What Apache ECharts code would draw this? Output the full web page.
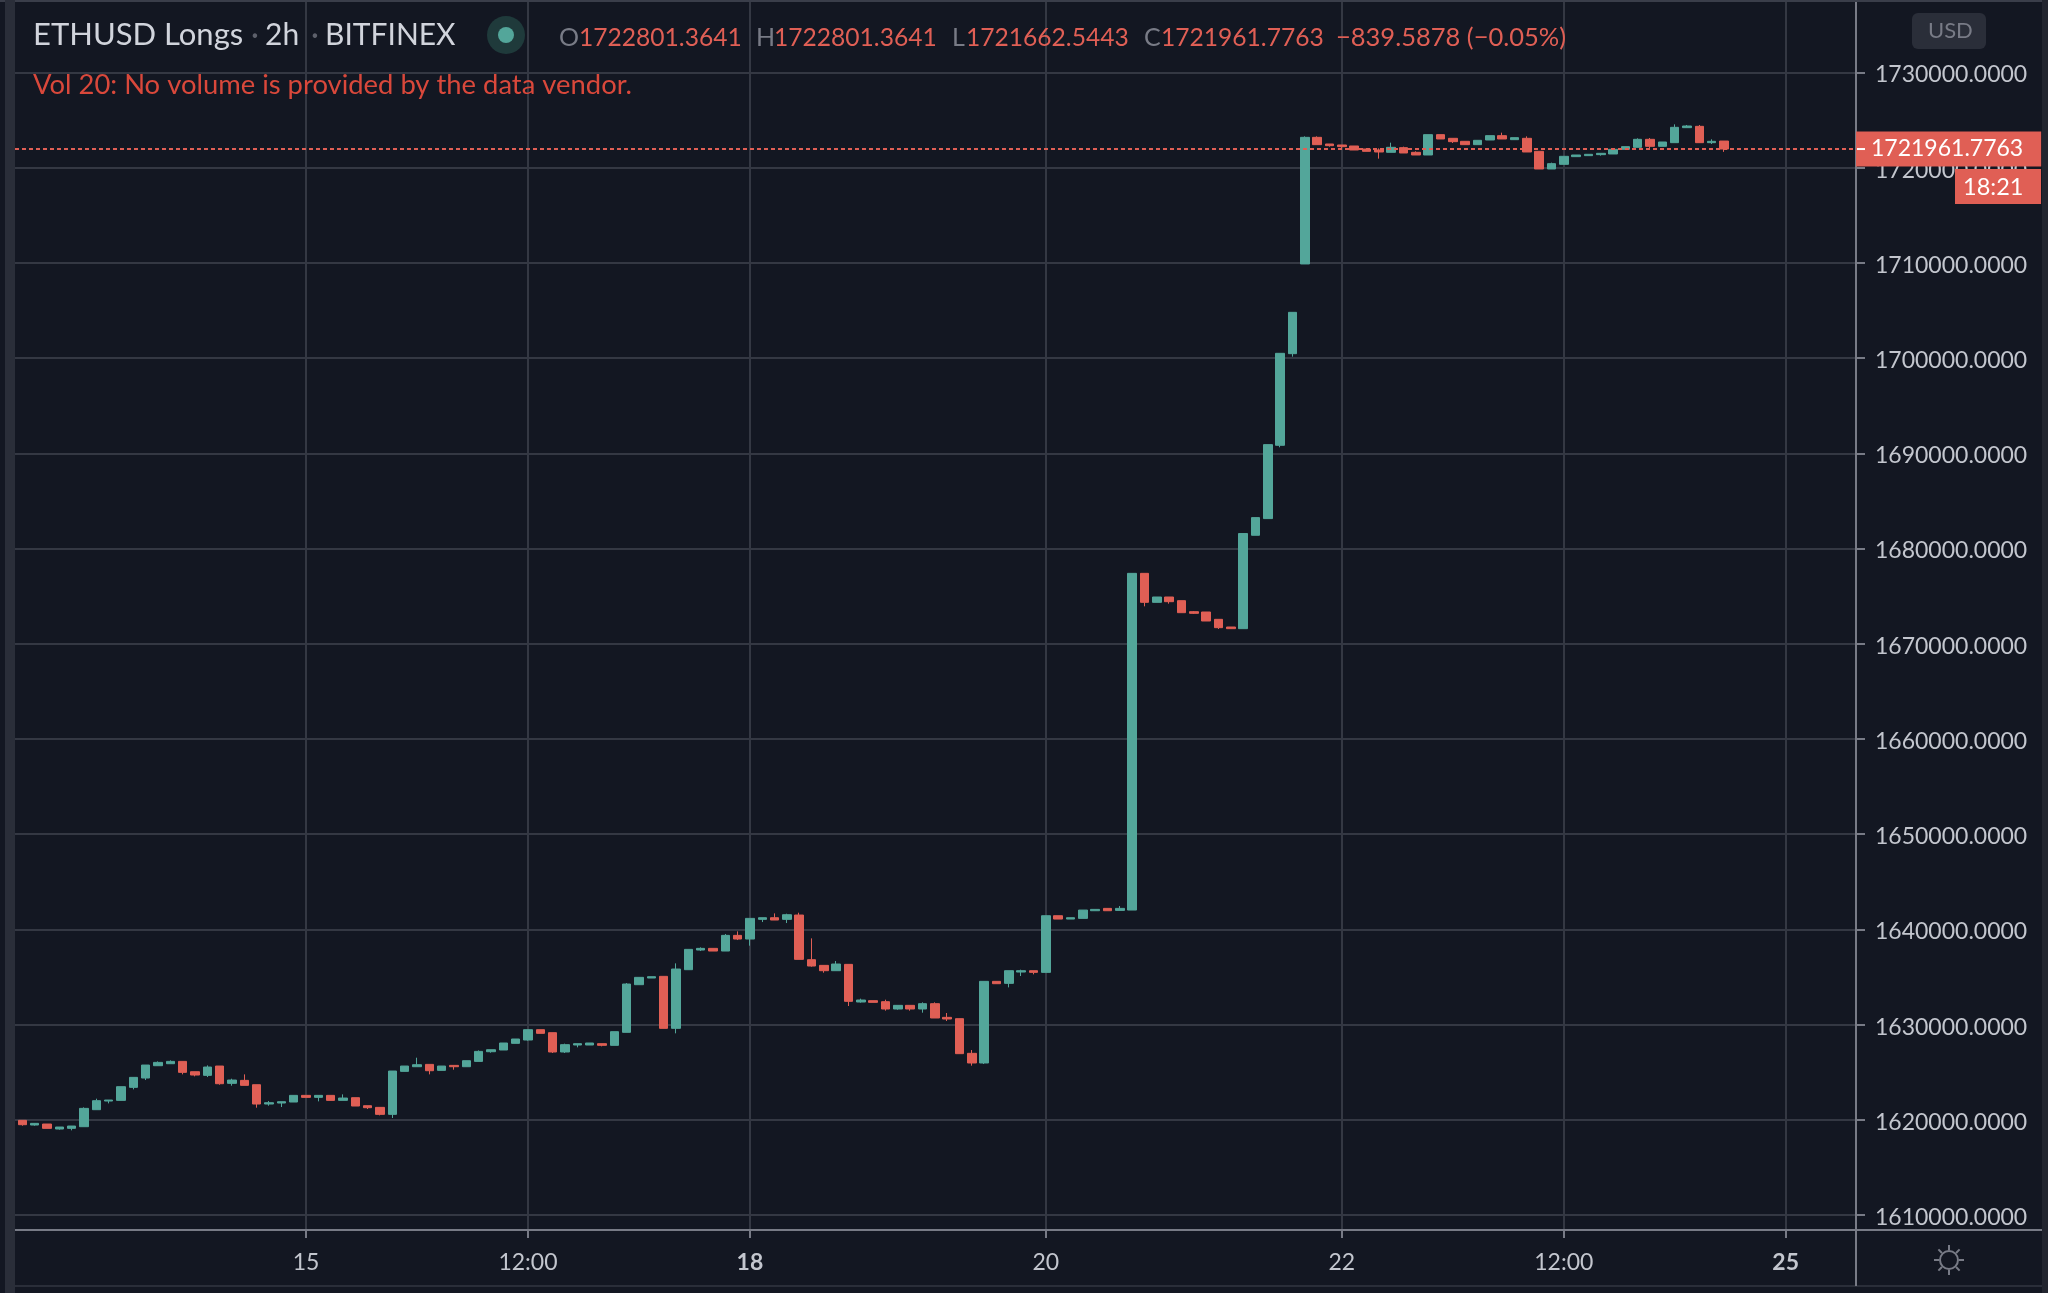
<!DOCTYPE html>
<html lang="en">

<head>
  <meta charset="UTF-8">
  <title>ETHUSD Longs</title>
  <style>
    html, body { margin: 0; padding: 0; background: #131722; }
    #main { width: 2048px; height: 1293px; }
  </style>
</head>

<body>
  <div id="main"></div>
  <script src="https://cdn.jsdelivr.net/npm/echarts@6/dist/echarts.min.js"></script>
  <script>
    // 2h bars
    var opens = [1619940, 1619450, 1619555, 1619030, 1619100, 1619275, 1621060, 1621970, 1622040, 1623405,
      1624385, 1625680, 1625890, 1626135, 1625050, 1624665, 1625645, 1623825, 1624140, 1623685,
      1621655, 1621760, 1621865, 1622565, 1622355, 1622565, 1622040, 1622320, 1621480, 1621305,
      1620570, 1625085, 1625575, 1625820, 1625190, 1625715, 1625575, 1626135, 1627150, 1627330,
      1628030, 1628380, 1629465, 1629150, 1627120, 1627855, 1627855, 1627995, 1627820, 1629185,
      1634190, 1634890, 1635065, 1629605, 1635765, 1637830, 1638005, 1637725, 1639370, 1638985,
      1641050, 1641225, 1641050, 1641505, 1636815, 1636220, 1635660, 1636325, 1632370, 1632510,
      1632405, 1631635, 1632020, 1631635, 1632195, 1630760, 1630620, 1626980, 1625965, 1634540,
      1634329, 1635519, 1635659, 1635484, 1641434, 1641084, 1641154, 1641959, 1642204, 1641994,
      1642029, 1677394, 1674349, 1674909, 1674524, 1673369, 1673334, 1672564, 1671759, 1671584,
      1681394, 1683144, 1690844, 1700469, 1709891, 1723191, 1722491, 1722386, 1722281, 1721966,
      1721861, 1721616, 1722106, 1721616, 1721336, 1723471, 1723086, 1722771, 1722421, 1722911,
      1723366, 1722946, 1723086, 1721721, 1719866, 1720356, 1721161, 1721266, 1721371, 1721441,
      1721931, 1722141, 1722981, 1722246, 1722631, 1724206, 1724346, 1722631, 1722801.3641];
    var closes = [1619485, 1619625, 1619100, 1619240, 1619345, 1621200, 1622005, 1622075, 1623475, 1624455,
      1625750, 1626030, 1626135, 1624980, 1624700, 1625540, 1623790, 1624175, 1623615, 1621655,
      1621795, 1621900, 1622565, 1622355, 1622565, 1622040, 1622285, 1621445, 1621270, 1620570,
      1625120, 1625645, 1625785, 1625155, 1625645, 1625575, 1626205, 1627185, 1627360, 1628065,
      1628485, 1629465, 1629080, 1627120, 1627890, 1627995, 1628065, 1627820, 1629255, 1634260,
      1634960, 1635030, 1629605, 1635835, 1637900, 1638005, 1637725, 1639370, 1638985, 1641155,
      1641225, 1640980, 1641540, 1636850, 1636150, 1635660, 1636360, 1632440, 1632580, 1632335,
      1631635, 1632020, 1631635, 1632195, 1630690, 1630585, 1626945, 1625965, 1634540, 1634295,
      1635659, 1635659, 1635484, 1641434, 1641084, 1641224, 1642029, 1642099, 1641959, 1642204,
      1677394, 1674349, 1674909, 1674419, 1673264, 1673194, 1672389, 1671689, 1671584, 1681577,
      1683249, 1690914, 1700504, 1704809, 1723191, 1722421, 1722316, 1722211, 1721861, 1721721,
      1721651, 1722141, 1721546, 1721336, 1723471, 1723016, 1722736, 1722421, 1722876, 1723366,
      1723016, 1723156, 1721651, 1719866, 1720426, 1721196, 1721336, 1721406, 1721511, 1721931,
      1722211, 1722981, 1722246, 1722701, 1724241, 1724381, 1722631, 1722771, 1721961.7763];
    var lows = [1619380, 1619380, 1619100, 1618960, 1618890, 1619275, 1621060, 1621725, 1622040, 1623195,
      1624175, 1625680, 1625890, 1624770, 1624560, 1624490, 1623685, 1623580, 1623615, 1621270,
      1621480, 1621340, 1621865, 1622355, 1621935, 1622040, 1622040, 1621445, 1621130, 1620465,
      1620185, 1625085, 1625575, 1624770, 1625190, 1625260, 1625575, 1626135, 1627045, 1627330,
      1628030, 1628310, 1629080, 1627015, 1627015, 1627610, 1627855, 1627715, 1627820, 1629185,
      1634190, 1634890, 1629605, 1629080, 1635765, 1637725, 1637725, 1637725, 1638880, 1638285,
      1640770, 1640980, 1640665, 1636850, 1636080, 1635450, 1635660, 1631950, 1632300, 1632335,
      1631460, 1631565, 1631460, 1631250, 1630690, 1630375, 1626945, 1625685, 1625860, 1634295,
      1633909, 1635099, 1635274, 1635484, 1641084, 1641084, 1641154, 1641959, 1641959, 1641994,
      1642029, 1673929, 1674349, 1674209, 1673264, 1673124, 1672389, 1671549, 1671584, 1671584,
      1681394, 1683144, 1690634, 1700154, 1709891, 1722421, 1722211, 1722036, 1721861, 1721721,
      1720951, 1721616, 1721546, 1721336, 1721336, 1723016, 1722596, 1722421, 1722421, 1722911,
      1723016, 1722946, 1721651, 1719866, 1719866, 1720356, 1721161, 1721266, 1721266, 1721441,
      1721931, 1722141, 1722001, 1722246, 1722631, 1724206, 1722631, 1722491, 1721662.5443];
    var highs = [1619940, 1619660, 1619555, 1619240, 1619345, 1621305, 1622215, 1622075, 1623475, 1624455,
      1625750, 1626135, 1626240, 1626135, 1625050, 1625715, 1625645, 1624315, 1624770, 1623685,
      1621970, 1621900, 1622565, 1622565, 1622565, 1622565, 1622670, 1622320, 1621480, 1621305,
      1625120, 1625645, 1626520, 1625820, 1625645, 1625715, 1626205, 1627290, 1627360, 1628065,
      1628485, 1629465, 1629465, 1629150, 1627995, 1627995, 1628065, 1627995, 1629255, 1634365,
      1634960, 1635030, 1635065, 1636430, 1637900, 1638110, 1638005, 1639510, 1639790, 1641155,
      1641225, 1641680, 1641645, 1641750, 1639055, 1636220, 1636675, 1636325, 1632720, 1632510,
      1632615, 1632020, 1632020, 1632335, 1632335, 1631215, 1630620, 1627330, 1634540, 1634540,
      1635659, 1635764, 1635659, 1641434, 1641434, 1641224, 1642029, 1642099, 1642204, 1642449,
      1677394, 1677394, 1674909, 1674909, 1674524, 1673439, 1673334, 1672564, 1671759, 1681577,
      1683249, 1690914, 1700504, 1704809, 1723296, 1723296, 1722491, 1722386, 1722281, 1721966,
      1722036, 1722631, 1722211, 1721721, 1723471, 1723471, 1723086, 1722771, 1722876, 1723366,
      1723681, 1723156, 1723296, 1721721, 1720531, 1721196, 1721336, 1721406, 1721511, 1721931,
      1722211, 1723086, 1723121, 1722701, 1724556, 1724486, 1724486, 1722981, 1722801.3641];

    var priceTicks = [1610000, 1620000, 1630000, 1640000, 1650000, 1660000, 1670000,
      1680000, 1690000, 1700000, 1710000, 1720000, 1730000];
    var timeTicks = [23, 41, 59, 83, 107, 125, 143];
    var timeLabels = ['15', '12:00', '18', '20', '22', '12:00', '25'];
    var boldLabels = ['18', '25'];
    var lastClose = 1721961.7763;

    var font = 'Lato';
    var upColor = '#53a69a';
    var downColor = '#e05f55';
    var gridColor = '#343843';
    var axisColor = '#787b86';
    var textColor = '#c3c6ce';

    var candles = opens.map(function (o, i) {
      return [i, o, closes[i], lows[i], highs[i]];
    });

    function label(x, y, text, color, size) {
      return {
        type: 'text', x: x, y: y, z: 20,
        style: { text: text, fill: color, font: size + 'px ' + font, verticalAlign: 'middle' }
      };
    }
    function block(x, y, w, h, color, z, r) {
      return {
        type: 'rect', z: z, silent: true,
        shape: { x: x, y: y, width: w, height: h, r: r || 0 },
        style: { fill: color }
      };
    }

    var graphics = [
      // chrome around the chart
      block(0, 0, 2048, 2, '#3a3e4a', 1),
      block(5, 0, 10, 1293, '#2a2e39', 1),
      block(2042, 0, 6, 1293, '#22252f', 1),
      block(15, 1285, 2027, 2, '#2a2e39', 1),
      block(1855, 1230, 2, 56, axisColor, 1),
      block(1857, 1229, 185, 2, axisColor, 1),
      // legend
      label(33, 35, 'ETHUSD Longs', '#d1d4dc', 31),
      label(251, 35, '·', '#5d606b', 30),
      label(265, 35, '2h', '#d1d4dc', 30),
      label(311, 35, '·', '#5d606b', 30),
      label(325, 35, 'BITFINEX', '#d1d4dc', 30),
      { type: 'circle', z: 20, shape: { cx: 506, cy: 35, r: 19 }, style: { fill: '#1f3a3b' } },
      { type: 'circle', z: 21, shape: { cx: 506, cy: 35, r: 8 }, style: { fill: upColor } },
      label(559, 38, 'O', axisColor, 25),
      label(579, 38, '1722801.3641', downColor, 24.6),
      label(756, 38, 'H', axisColor, 25),
      label(774, 38, '1722801.3641', downColor, 24.6),
      label(952, 38, 'L', axisColor, 25),
      label(966, 38, '1721662.5443', downColor, 24.6),
      label(1144, 38, 'C', axisColor, 25),
      label(1161, 38, '1721961.7763', downColor, 24.6),
      label(1336, 38, '−839.5878 (−0.05%)', downColor, 25.5),
      label(33, 85, 'Vol 20: No volume is provided by the data vendor.', '#d9483b', 27.4),
      // USD button
      block(1912, 13, 74, 36, '#2a2e39', 20, 6),
      label(1928, 31, 'USD', axisColor, 22),
      // countdown
      block(1955, 169, 86, 35, downColor, 20),
      label(1963, 187, '18:21', '#ffffff', 23.5)
    ];
    graphics[graphics.length - 3].z = 21;
    graphics[graphics.length - 1].z = 21;

    // sun button in the corner
    graphics.push({
      type: 'circle', z: 20, shape: { cx: 1949, cy: 1260, r: 9 },
      style: { fill: 'none', stroke: axisColor, lineWidth: 2 }
    });
    for (var k = 0; k < 8; k++) {
      var a = k * Math.PI / 4;
      graphics.push({
        type: 'line', z: 20,
        shape: {
          x1: 1949 + 10 * Math.cos(a), y1: 1260 + 10 * Math.sin(a),
          x2: 1949 + 15 * Math.cos(a), y2: 1260 + 15 * Math.sin(a)
        },
        style: { stroke: axisColor, lineWidth: 2 }
      });
    }

    var myChart = echarts.init(document.getElementById('main'));
    var rich = {
      n: { color: textColor, fontSize: 23, fontFamily: font },
      b: { color: textColor, fontSize: 23, fontFamily: font, fontWeight: 'bold' },
      p: { color: textColor, fontSize: 23, fontFamily: font, padding: [5, 0, 0, 0] }
    };

    var option = {
      animation: false,
      backgroundColor: '#131722',
      grid: { left: 15, right: 192, top: 2, bottom: 63, containLabel: false },
      xAxis: {
        type: 'value',
        min: -0.6,
        max: 148.7,
        axisLine: { onZero: false, lineStyle: { color: axisColor, width: 2 } },
        axisTick: { customValues: timeTicks, length: 8, lineStyle: { color: axisColor, width: 2 } },
        axisLabel: {
          customValues: timeTicks,
          margin: 21,
          formatter: function (v) {
            var t = timeLabels[timeTicks.indexOf(v)];
            return boldLabels.indexOf(t) >= 0 ? '{b|' + t + '}' : '{n|' + t + '}';
          },
          rich: rich
        },
        splitLine: { show: true, lineStyle: { color: gridColor, width: 2 } }
      },
      yAxis: {
        type: 'value',
        position: 'right',
        min: 1608424,
        max: 1737405,
        axisLine: { show: true, onZero: false, lineStyle: { color: axisColor, width: 2 } },
        axisTick: { show: true, customValues: priceTicks, length: 9, lineStyle: { color: axisColor, width: 2 } },
        axisLabel: {
          customValues: priceTicks,
          margin: 19,
          formatter: function (v) { return '{p|' + v.toFixed(4) + '}'; },
          rich: rich
        },
        splitLine: { show: true, lineStyle: { color: gridColor, width: 2 } }
      },
      series: [{
        type: 'candlestick',
        name: 'ETHUSD Longs',
        encode: { x: 0, y: [1, 2, 3, 4] },
        barWidth: 9,
        itemStyle: {
          color: upColor,
          color0: downColor,
          borderColor: upColor,
          borderColor0: downColor,
          borderWidth: 1
        },
        data: candles,
        markLine: {
          silent: true,
          symbol: 'none',
          animation: false,
          lineStyle: { color: downColor, type: [4, 3], width: 2 },
          label: {
            position: 'end',
            distance: 0,
            color: '#ffffff',
            fontSize: 23,
            fontFamily: font,
            backgroundColor: downColor,
            padding: [8, 18, 4, 15],
            formatter: function () { return lastClose.toFixed(4); }
          },
          data: [{ yAxis: lastClose }]
        }
      }]
    };

    option && myChart.setOption(option);

    // white tick inside the price label, sits where the scale puts the last close
    var lastY = myChart.convertToPixel({ yAxisIndex: 0 }, lastClose);
    graphics.push(block(1857, lastY - 1, 8, 2, '#ffffff', 21));
    myChart.setOption({ graphic: graphics });
  </script>
</body>

</html>
